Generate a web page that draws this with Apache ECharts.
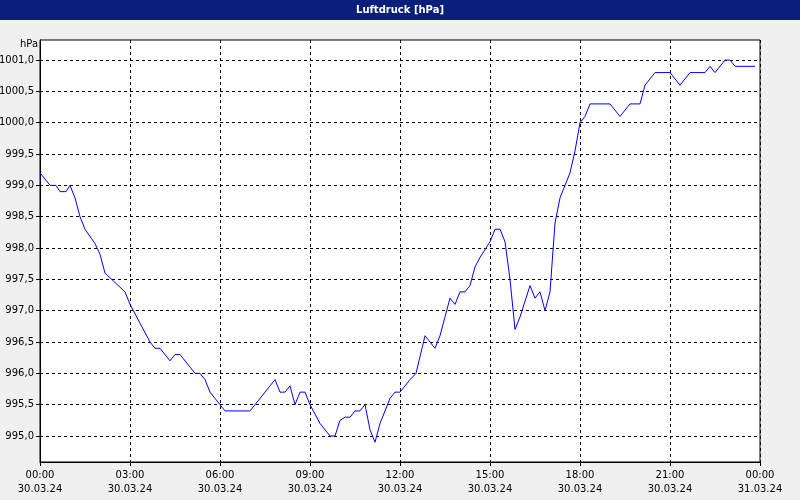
<!DOCTYPE html>
<html><head><meta charset="utf-8">
<script src="https://cdn.jsdelivr.net/npm/echarts@6/dist/echarts.min.js"></script>
<style>html,body{margin:0;padding:0;background:#f0f0f0}#c{width:800px;height:500px}</style>
</head><body><div id="c"></div>
<script>
const minutes = [0,20,32,40,52,60,70,80,90,110,120,130,150,170,180,200,220,230,240,260,270,280,310,320,330,340,360,370,420,470,480,490,500,510,520,530,540,560,580,590,600,610,620,630,640,650,660,670,680,700,710,720,740,752,770,790,800,810,820,830,840,850,860,870,880,900,910,920,930,940,950,960,980,990,1000,1010,1020,1030,1040,1060,1070,1080,1090,1100,1140,1160,1180,1200,1210,1230,1260,1280,1300,1330,1340,1350,1370,1380,1390,1430];
const pressure = [999.2,999.0,999.0,998.9,998.9,999.0,998.8,998.5,998.3,998.07,997.9,997.6,997.45,997.3,997.1,996.8,996.5,996.4,996.4,996.2,996.3,996.3,996.0,996.0,995.9,995.7,995.5,995.4,995.4,995.9,995.7,995.7,995.8,995.5,995.7,995.7,995.5,995.2,995.0,995.0,995.25,995.3,995.3,995.4,995.4,995.5,995.1,994.9,995.2,995.6,995.7,995.7,995.9,996.0,996.6,996.4,996.6,996.9,997.2,997.1,997.3,997.3,997.4,997.7,997.85,998.1,998.3,998.3,998.1,997.5,996.7,996.9,997.4,997.2,997.3,997.0,997.3,998.4,998.8,999.2,999.55,1000.0,1000.1,1000.3,1000.3,1000.1,1000.3,1000.3,1000.6,1000.8,1000.8,1000.6,1000.8,1000.8,1000.9,1000.8,1001.0,1001.0,1000.9,1000.9];
const yTicks = [995,995.5,996,996.5,997,997.5,998,998.5,999,999.5,1000,1000.5,1001];
const xTicks = [0,180,360,540,720,900,1080,1260,1440];
const xLabels = ['00:00\n30.03.24','03:00\n30.03.24','06:00\n30.03.24','09:00\n30.03.24','12:00\n30.03.24','15:00\n30.03.24','18:00\n30.03.24','21:00\n30.03.24','00:00\n31.03.24'];
const data = minutes.map((m,i)=>[m,pressure[i]]);
const font = 'DejaVu Sans';
const chart = echarts.init(document.getElementById('c'));
chart.setOption({
  backgroundColor:'#f0f0f0',
  animation:false,
  graphic:[
    {type:'rect',shape:{x:0,y:0,width:800,height:20},style:{fill:'#0a1f7a'}},
    {type:'text',x:400,y:10,style:{text:'Luftdruck [hPa]',fill:'#fff',font:'bold 10px "DejaVu Sans"',align:'center',verticalAlign:'middle'}},
    {type:'text',x:20,y:44,style:{text:'hPa',fill:'#000',font:'10px "DejaVu Sans"',verticalAlign:'middle'}}
  ],
  grid:{left:40,right:40,top:40,bottom:38,containLabel:false,outerBoundsMode:'none',show:true,backgroundColor:'#fff',borderColor:'#000',borderWidth:1},
  xAxis:{type:'value',min:0,max:1440,interval:180,
    axisLine:{lineStyle:{color:'#000'}},
    axisTick:{length:4,lineStyle:{color:'#000'}},
    axisLabel:{formatter:v=>xLabels[xTicks.indexOf(v)],color:'#000',fontFamily:font,fontSize:10,lineHeight:14,margin:6},
    splitLine:{show:true,lineStyle:{color:'#000',type:[3,3]}}},
  yAxis:{type:'value',min:994.585,max:1001.32,
    axisLine:{show:true,lineStyle:{color:'#000'}},
    axisTick:{show:true,customValues:yTicks,length:4,lineStyle:{color:'#000'}},
    axisLabel:{customValues:yTicks,formatter:v=>v.toFixed(1).replace('.',','),color:'#000',fontFamily:font,fontSize:10,margin:6},
    splitLine:{show:true,lineStyle:{color:'#000',type:[3,3]}}},
  series:[{type:'line',data:data,symbol:'none',lineStyle:{color:'#0000ff',width:1}}]
});
</script></body></html>
